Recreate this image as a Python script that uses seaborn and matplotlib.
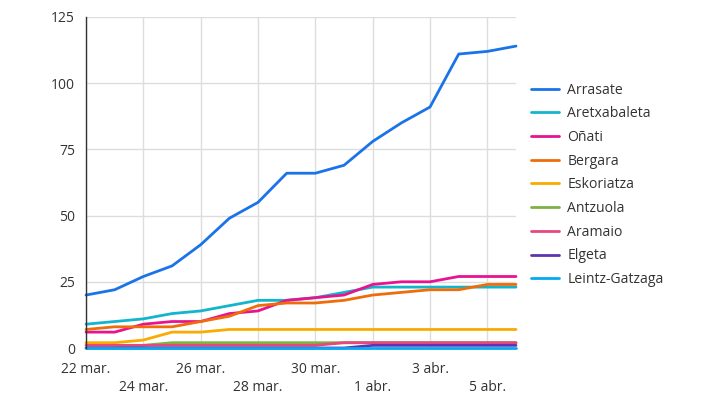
import matplotlib.pyplot as plt
import pandas as pd
import seaborn as sns

# Data
dates = ['22 mar.', '23 mar.', '24 mar.', '25 mar.', '26 mar.', '27 mar.', '28 mar.', '29 mar.',
         '30 mar.', '31 mar.', '1 abr.', '2 abr.', '3 abr.', '4 abr.', '5 abr.', '6 abr.']

arrasate = [20, 22, 27, 31, 39, 49, 55, 66, 66, 69, 78, 85, 91, 111, 112, 114]
aretxabaleta = [9, 10, 11, 13, 14, 16, 18, 18, 19, 21, 23, 23, 23, 23, 23, 23]
onati = [6, 6, 9, 10, 10, 13, 14, 18, 19, 20, 24, 25, 25, 27, 27, 27]
bergara = [7, 8, 8, 8, 10, 12, 16, 17, 17, 18, 20, 21, 22, 22, 24, 24]
eskoriatza = [2, 2, 3, 6, 6, 7, 7, 7, 7, 7, 7, 7, 7, 7, 7, 7]
antzuola = [0, 0, 1, 2, 2, 2, 2, 2, 2, 2, 2, 2, 2, 2, 2, 2]
aramaio = [1, 1, 1, 1, 1, 1, 1, 1, 1, 2, 2, 2, 2, 2, 2, 2]
elgeta = [0, 0, 0, 0, 0, 0, 0, 0, 0, 0, 1, 1, 1, 1, 1, 1]
leintz = [0, 0, 0, 0, 0, 0, 0, 0, 0, 0, 0, 0, 0, 0, 0, 0]

towns = ['Arrasate', 'Aretxabaleta', 'Oñati', 'Bergara', 'Eskoriatza',
         'Antzuola', 'Aramaio', 'Elgeta', 'Leintz-Gatzaga']
series = [arrasate, aretxabaleta, onati, bergara, eskoriatza, antzuola, aramaio, elgeta, leintz]
colors = ['#1a73e8', '#12b5cb', '#e8138f', '#ef6c0a', '#f9ab00',
          '#7cb342', '#e8467c', '#5e35b1', '#03a9f4']

rows = []
for town, vals in zip(towns, series):
    for i, v in enumerate(vals):
        rows.append({'day': i, 'town': town, 'cases': v})
df = pd.DataFrame(rows)

sns.set_theme(style='white')
plt.rcParams['font.family'] = ['Open Sans', 'DejaVu Sans']

fig = plt.figure(figsize=(7.17, 4.04), dpi=100)
ax = fig.add_axes([0.12, 0.1386, 0.5997, 0.8194])

sns.lineplot(data=df, x='day', y='cases', hue='town', hue_order=towns,
             palette=colors, linewidth=2.0, ax=ax)
for ln in ax.get_lines():
    ln.set_clip_on(False)

ax.set_xlim(0, len(dates) - 1)
ax.set_ylim(0, 125)
ax.set_yticks([0, 25, 50, 75, 100, 125])

tick_pos = list(range(0, len(dates), 2))
tick_lab = [dates[p] if k % 2 == 0 else '\n' + dates[p] for k, p in enumerate(tick_pos)]
ax.set_xticks(tick_pos)
ax.set_xticklabels(tick_lab, linespacing=1.3)
ax.tick_params(axis='both', length=0, labelsize=10, colors='#333333')
ax.tick_params(axis='y', pad=8)
ax.tick_params(axis='x', pad=10)

ax.grid(True, color='#dddddd', linewidth=1)
ax.set_axisbelow(True)
for side in ['top', 'right', 'bottom']:
    ax.spines[side].set_visible(False)
ax.spines['left'].set_color('#333333')
ax.spines['left'].set_linewidth(1)
ax.set_xlabel('')
ax.set_ylabel('')

leg = ax.legend(loc='upper left', bbox_to_anchor=(1.005, 0.84), frameon=False,
                fontsize=10.1, handlelength=2.0, handletextpad=0.6, labelspacing=0.62)
for t in leg.get_texts():
    t.set_color('#333333')
for h in leg.get_lines():
    h.set_linewidth(2.0)

fig.savefig('out.png', dpi=100)
